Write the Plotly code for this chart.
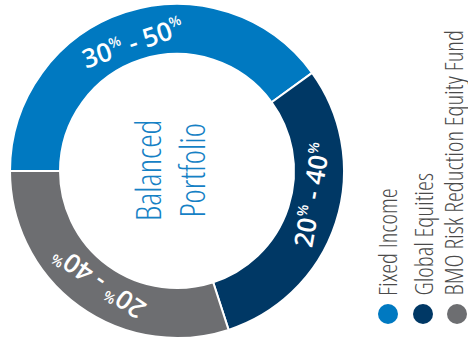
import plotly.graph_objects as go
import math

# ---- data ----
categories = ["Fixed Income", "Global Equities", "BMO Risk Reduction Equity Fund"]
values = [40, 30, 30]
range_labels = ["30% - 50%", "20% - 40%", "20% - 40%"]
center_title = ["Balanced", "Portfolio"]

# ---- styles ----
colors = ["#0079C1", "#003865", "#6D6E71"]
W, H = 468, 350
CX, CY, R_OUT, R_IN = 177, 171, 167, 117
R_LABEL = 136
START = 270  # degrees clockwise from 12 o'clock
flip = [False, True, False]        # label reading direction
angle_nudge = [-1, -8, -1]         # small angular offsets of the labels
FONT = "Open Sans"
COND = "font-stretch:75%"

def px(x):
    return x / W

def py(y):
    return 1 - y / H

fig = go.Figure()
fig.add_trace(go.Pie(
    labels=categories, values=values, sort=False, direction="clockwise",
    rotation=START, hole=R_IN / R_OUT,
    marker=dict(colors=colors, line=dict(color="white", width=2)),
    textinfo="none", hoverinfo="label+percent", showlegend=False,
    domain=dict(x=[px(CX - R_OUT), px(CX + R_OUT)], y=[py(CY + R_OUT), py(CY - R_OUT)]),
))

total = sum(values)
cum = 0
annotations = []
for i, (v, lab) in enumerate(zip(values, range_labels)):
    theta = START + 360 * (cum + v / 2) / total + angle_nudge[i]
    cum += v
    t = math.radians(theta)
    x = CX + R_LABEL * math.sin(t)
    y = CY - R_LABEL * math.cos(t)
    ang = theta % 360
    if flip[i]:
        ang = ang - 180
    if ang > 180:
        ang -= 360
    txt = lab.replace("%", "<sup><span style='font-size:14px'>%</span></sup>")
    annotations.append(dict(
        x=px(x), y=py(y), xref="paper", yref="paper", showarrow=False,
        text=txt, textangle=ang, xanchor="center", yanchor="middle",
        font=dict(family=FONT, size=26, color="white", weight=600),
    ))

annotations.append(dict(
    x=px(170), y=py(170), xref="paper", yref="paper", showarrow=False,
    text="<br>".join(f"<span style='{COND}'>{s}</span>" for s in center_title),
    textangle=-90, xanchor="center", yanchor="middle",
    font=dict(family=FONT, size=34, color="#1581C5", weight=300),
))

shapes = []
dot_x = [388, 423, 457]
txt_x = [387, 422, 452]
for i, name in enumerate(categories):
    annotations.append(dict(
        x=px(txt_x[i]), y=py(298), xref="paper", yref="paper", showarrow=False,
        text=f"<span style='{COND}'>{name}</span>", textangle=-90,
        xanchor="center", yanchor="bottom",
        font=dict(family=FONT, size=25, color="#4A4A4A", weight=300),
    ))
    shapes.append(dict(
        type="circle", xref="paper", yref="paper",
        x0=px(dot_x[i] - 10), x1=px(dot_x[i] + 10),
        y0=py(314 + 10), y1=py(314 - 10),
        fillcolor=colors[i], line=dict(width=0),
    ))

fig.update_layout(
    width=W, height=H, margin=dict(l=0, r=0, t=0, b=0),
    paper_bgcolor="white", plot_bgcolor="white",
    annotations=annotations, shapes=shapes,
)

fig.write_html("out.html", config={"displayModeBar": False},
               post_script="document.body.style.margin='0';")
